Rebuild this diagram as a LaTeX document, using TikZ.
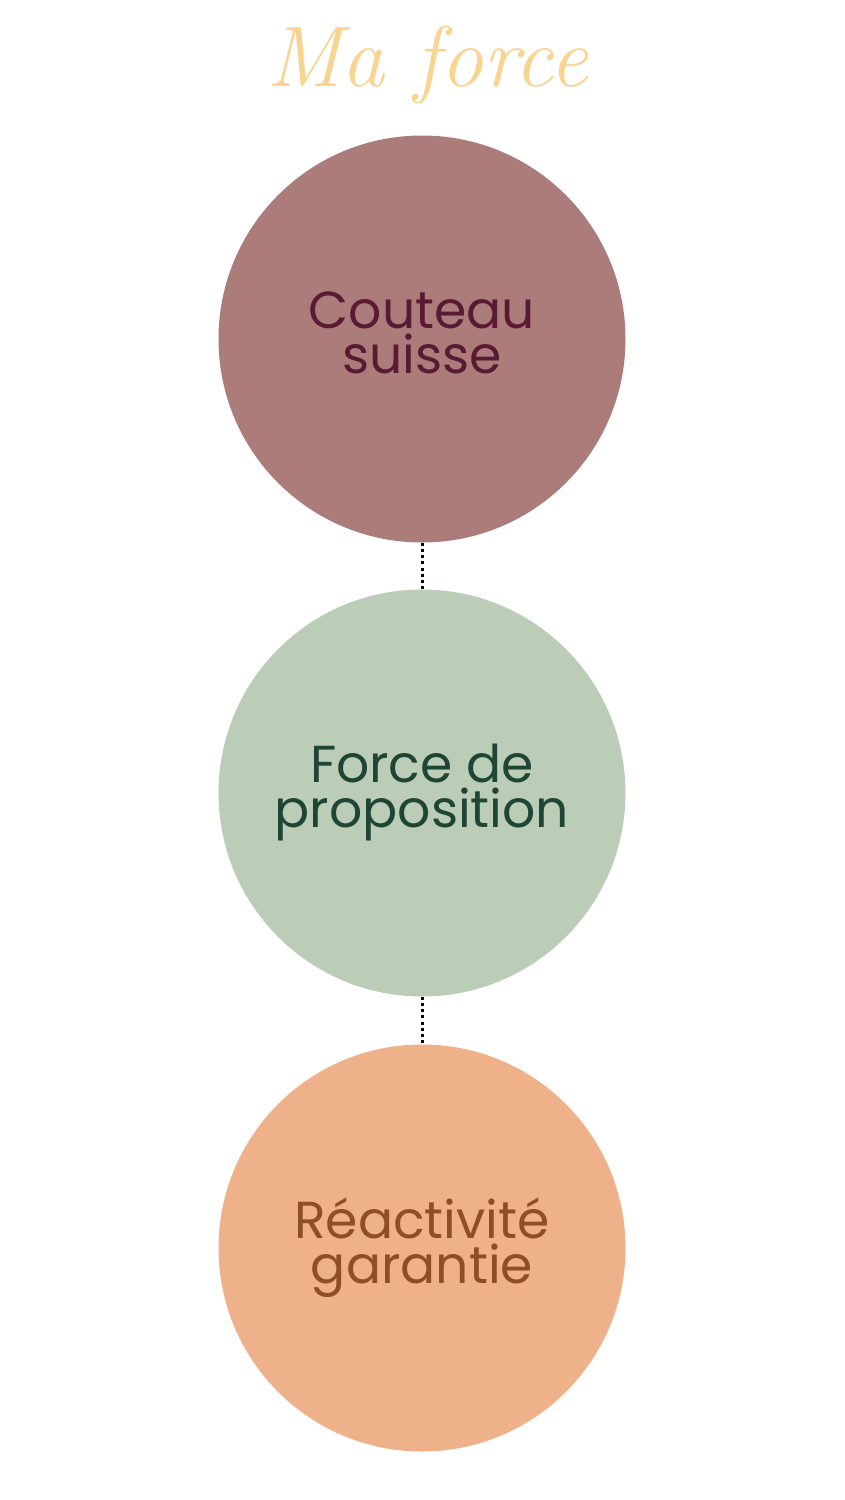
\documentclass[tikz,border=0pt]{standalone}
\usepackage{fontspec}
\setmainfont{Poppins}
\newfontfamily\titlefont{Latin Modern Roman}
\definecolor{cA}{HTML}{AB7C7A}
\definecolor{tA}{HTML}{5A1A34}
\definecolor{cB}{HTML}{BBCDB6}
\definecolor{tB}{HTML}{1E4535}
\definecolor{cC}{HTML}{EFB189}
\definecolor{tC}{HTML}{8E4E26}
\definecolor{ttl}{HTML}{F8D490}
\newcommand\lift{\rule[-12pt]{0pt}{0pt}}
\begin{document}
\begin{tikzpicture}[x=1pt,y=-1pt,
  bubble/.style={circle,minimum size=407pt,inner sep=0pt,align=center,
    font=\fontsize{52}{45}\selectfont},
  link/.style={line width=3pt,dash pattern=on 3pt off 3.2pt}]
\useasboundingbox (0,0) rectangle (844,1500);
\node[font=\titlefont\itshape\fontsize{86}{86}\selectfont,text=ttl] (title) at (427,65) {Ma force};
\node[bubble,fill=cA,text=tA] (a) at (422,339) {Couteau\\suisse\lift};
\node[bubble,fill=cB,text=tB] (b) at (422,793) {Force de\\proposition\rule[-2pt]{0pt}{0pt}};
\node[bubble,fill=cC,text=tC] (c) at (422,1248) {Réactivité\\garantie\lift};
\draw[link] (a.south) -- (b.north);
\draw[link] (b.south) -- (c.north);
\end{tikzpicture}
\end{document}
